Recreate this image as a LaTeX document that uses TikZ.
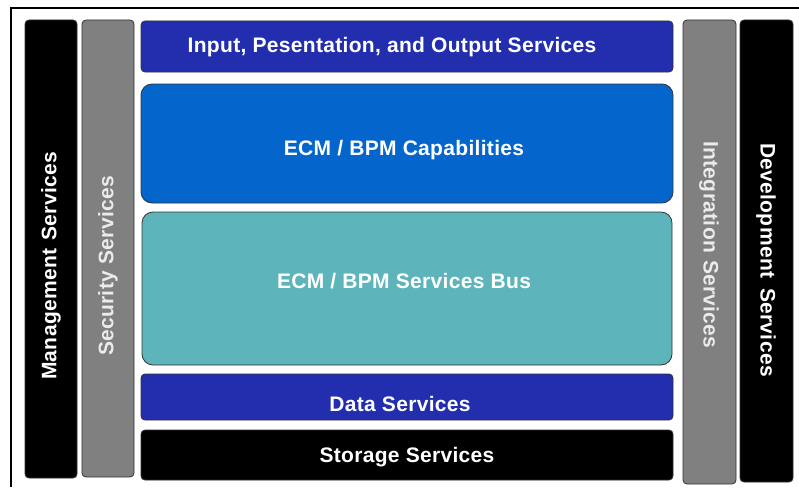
\documentclass[tikz,border=0pt]{standalone}
\usepackage{fontspec}
\setmainfont{Liberation Sans}
\definecolor{darkblue}{RGB}{34,46,174}
\definecolor{midblue}{RGB}{4,102,204}
\definecolor{teal}{RGB}{94,180,187}
\definecolor{midgray}{RGB}{128,128,128}
\definecolor{edge}{RGB}{50,50,50}
\begin{document}
\begin{tikzpicture}[x=1pt,y=-1pt,
  box/.style={draw=edge,line width=0.8pt,rounded corners=4pt},
  bigbox/.style={draw=edge,line width=0.8pt,rounded corners=11pt},
  lbl/.style={text=white,font=\fontsize{21}{25}\selectfont\bfseries\addfontfeature{LetterSpace=1.5},inner sep=0pt},
  vlbl/.style={lbl,rotate=90}]
\useasboundingbox (0,0) rectangle (799,487);
\draw[line width=1.2pt] (11,487) coordinate (fl) -- (11,8) coordinate (fc) -- (799,8) coordinate (fr);
% side columns
\draw[box,fill=black] (25,20) rectangle (77,478);
\draw[box,fill=midgray] (82,20) rectangle (134,477);
\draw[box,fill=midgray] (683,20) rectangle (736,484);
\draw[box,fill=black] (740,20) rectangle (793,482);
% central layers
\draw[box,fill=darkblue] (141,21) rectangle (673,72);
\draw[bigbox,fill=midblue] (141,84) rectangle (673,203);
\draw[bigbox,fill=teal] (142,212) rectangle (672,365);
\draw[box,fill=darkblue] (141,374) rectangle (673,420);
\draw[box,fill=black] (141,430) rectangle (673,480);
% labels
\node[lbl] (input) at (392,47) {Input, Pesentation, and Output Services};
\node[lbl] (cap) at (404,150) {ECM / BPM Capabilities};
\node[lbl] (bus) at (404,281) {ECM / BPM Services Bus};
\node[lbl] (data) at (400,404) {Data Services};
\node[lbl] (stor) at (407,457) {Storage Services};
\node[vlbl] (mgmt) at (51,266) {Management\hspace{8pt}Services};
\node[vlbl,text=white!92!black] (sec) at (108,266) {Security Services};
\node[vlbl,rotate=180,text=white!92!black] (integ) at (709,245) {Integration\hspace{7pt}Services};
\node[vlbl,rotate=180] (dev) at (766,260) {Development\hspace{10pt}Services};
\end{tikzpicture}
\end{document}
